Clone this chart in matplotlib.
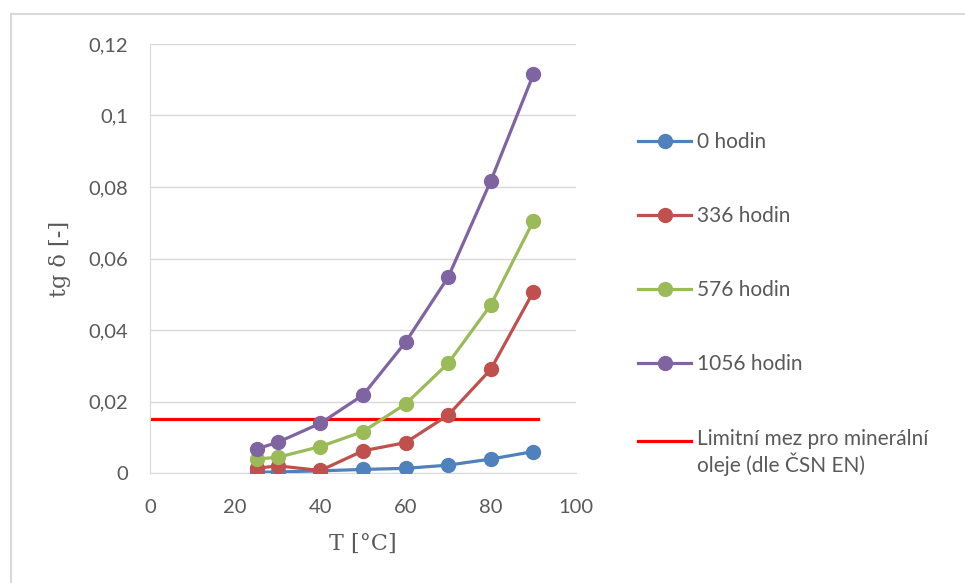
import matplotlib
matplotlib.use("Agg")
import matplotlib.pyplot as plt
from matplotlib.lines import Line2D
from matplotlib.legend_handler import HandlerLine2D

# temperature points [degC]
temps = [25, 30, 40, 50, 60, 70, 80, 90]

# tg delta per ageing time
series_labels = ["0 hodin", "336 hodin", "576 hodin", "1056 hodin"]
tg_0h = [0.0002, 0.0003, 0.0006, 0.0010, 0.0013, 0.0022, 0.0039, 0.0060]
tg_336h = [0.0013, 0.0020, 0.0007, 0.0062, 0.0085, 0.0162, 0.0290, 0.0507]
tg_576h = [0.0039, 0.0044, 0.0074, 0.0116, 0.0193, 0.0307, 0.0470, 0.0705]
tg_1056h = [0.0067, 0.0086, 0.0139, 0.0218, 0.0366, 0.0548, 0.0817, 0.1115]

# limit for mineral oils
limit_x = [0, 91]
limit_y = [0.015, 0.015]
limit_label = "Limitní mez pro minerální\noleje (dle ČSN EN)"

x_ticks = [0, 20, 40, 60, 80, 100]
y_ticks = [0, 0.02, 0.04, 0.06, 0.08, 0.1, 0.12]
y_ticklabels = ["0", "0,02", "0,04", "0,06", "0,08", "0,1", "0,12"]

COLORS = ["#4F81BD", "#C0504D", "#9BBB59", "#8064A2"]
TXT = "#595959"
GRID = "#D9D9D9"


class _FirstLineHandler(HandlerLine2D):
    # Excel puts the key level with the first text line, not the middle
    def create_artists(self, legend, orig_handle, xdescent, ydescent,
                       width, height, fontsize, trans):
        arts = super().create_artists(legend, orig_handle, xdescent,
                                      ydescent, width, height, fontsize,
                                      trans)
        for a in arts:
            a.set_ydata([y + 0.6 * fontsize for y in a.get_ydata()])
        return arts


plt.rcParams["font.family"] = ["Lato", "DejaVu Sans"]

fig = plt.figure(figsize=(9.65, 5.83), dpi=100)
ax = fig.add_axes([150 / 965, 1 - 473 / 583, 426 / 965, 429 / 583])

for vals, lab, col in zip([tg_0h, tg_336h, tg_576h, tg_1056h],
                          series_labels, COLORS):
    ax.plot(temps, vals, color=col, lw=2.3, marker="o", ms=10,
            label=lab, zorder=3)
limit_line, = ax.plot(limit_x, limit_y, color="#FF0000", lw=2.3,
                      label=limit_label, zorder=2)

ax.set_xlim(0, 100)
ax.set_ylim(0, 0.12)
ax.set_xticks(x_ticks)
ax.set_yticks(y_ticks)
ax.set_yticklabels(y_ticklabels)
ax.tick_params(length=0, labelsize=14.5, colors=TXT)
ax.tick_params(axis="x", pad=19)
ax.tick_params(axis="y", pad=16)
ax.yaxis.grid(True, color=GRID, lw=1)
ax.set_axisbelow(True)
for s in ("top", "right"):
    ax.spines[s].set_visible(False)
for s in ("left", "bottom"):
    ax.spines[s].set_color(GRID)

ax.set_xlabel("T [°C]", family="DejaVu Serif", fontsize=16, color=TXT,
              labelpad=12)
ax.set_ylabel("tg δ [-]", family="DejaVu Serif", fontsize=16, color=TXT,
              labelpad=12)

fig.legend(loc="upper left", bbox_to_anchor=(638 / 965, 1 - 132 / 583),
           frameon=False, fontsize=15, labelcolor=TXT, handlelength=2.55,
           handletextpad=0.28, labelspacing=2.6, borderpad=0,
           borderaxespad=0, handler_map={limit_line: _FirstLineHandler()})

# chart area border (top and left edges only visible)
fig.add_artist(Line2D([11 / 965, 1], [1 - 14 / 583, 1 - 14 / 583],
                      transform=fig.transFigure, color=GRID, lw=1.5))
fig.add_artist(Line2D([11 / 965, 11 / 965], [0, 1 - 14 / 583],
                      transform=fig.transFigure, color=GRID, lw=1.5))

fig.savefig("out.png", dpi=100, facecolor="white")
